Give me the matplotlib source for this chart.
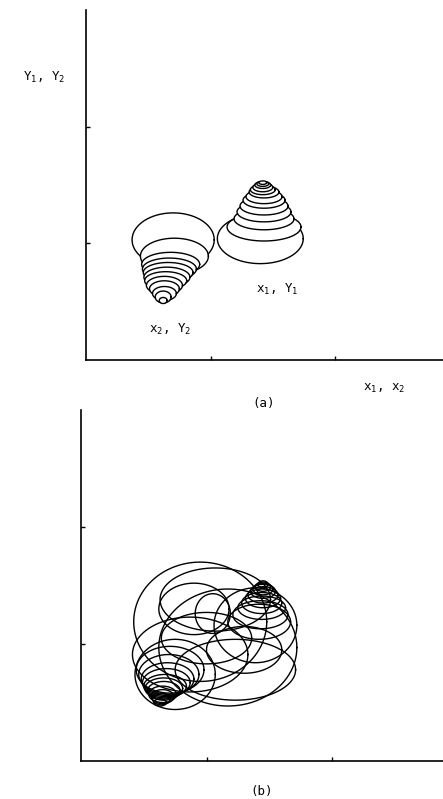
import numpy as np
import matplotlib.pyplot as plt

plt.rcParams['font.family'] = ['DejaVu Sans Mono']
plt.rcParams['mathtext.fontset'] = 'custom'
plt.rcParams['mathtext.rm'] = 'DejaVu Sans Mono'
plt.rcParams['mathtext.it'] = 'DejaVu Sans Mono'
plt.rcParams['mathtext.default'] = 'rm'

W, H = 443, 799

# ---- panel (a): two separate peaks, contour rings listed outer -> inner ----
# peak x1,y1 (rings climb upward)
a1_cx = [1.40, 1.43, 1.43, 1.43, 1.43, 1.43, 1.43, 1.43, 1.42, 1.42, 1.42, 1.42, 1.42]
a1_cy = [1.04, 1.14, 1.21, 1.27, 1.32, 1.37, 1.40, 1.44, 1.46, 1.48, 1.50, 1.51, 1.52]
a1_w  = [0.345, 0.297, 0.241, 0.217, 0.193, 0.169, 0.145, 0.12, 0.10, 0.08, 0.064, 0.048, 0.032]
a1_h  = [0.214, 0.12, 0.094, 0.086, 0.077, 0.069, 0.06, 0.051, 0.043, 0.038, 0.03, 0.022, 0.015]

# peak x2,y2 (rings drop downward)
a2_cx = [0.70, 0.71, 0.68, 0.67, 0.66, 0.65, 0.64, 0.63, 0.63, 0.63, 0.62, 0.62]
a2_cy = [1.03, 0.89, 0.82, 0.78, 0.75, 0.71, 0.68, 0.64, 0.61, 0.57, 0.54, 0.51]
a2_w  = [0.33, 0.273, 0.233, 0.217, 0.20, 0.185, 0.169, 0.145, 0.12, 0.096, 0.064, 0.032]
a2_h  = [0.231, 0.154, 0.103, 0.094, 0.086, 0.086, 0.077, 0.077, 0.069, 0.06, 0.051, 0.026]

# ---- panel (b): merged surface ----
b1_cx = [1.42, 1.43, 1.44, 1.44, 1.45, 1.45, 1.45, 1.45, 1.45, 1.45]
b1_cy = [1.19, 1.25, 1.31, 1.35, 1.39, 1.42, 1.45, 1.47, 1.49, 1.51]
b1_w  = [0.25, 0.22, 0.19, 0.16, 0.14, 0.12, 0.10, 0.08, 0.06, 0.04]
b1_h  = [0.15, 0.12, 0.10, 0.09, 0.08, 0.07, 0.06, 0.05, 0.04, 0.03]

b2_cx = [0.71, 0.70, 0.69, 0.68, 0.67, 0.66, 0.66, 0.65, 0.65, 0.64, 0.63]
b2_cy = [0.78, 0.74, 0.70, 0.67, 0.64, 0.62, 0.60, 0.57, 0.55, 0.53, 0.50]
b2_w  = [0.27, 0.24, 0.21, 0.19, 0.17, 0.15, 0.13, 0.11, 0.09, 0.07, 0.05]
b2_h  = [0.20, 0.17, 0.14, 0.12, 0.10, 0.09, 0.08, 0.07, 0.06, 0.05, 0.03]

# wide low-level contours that wrap both peaks
bw_cx = [0.95, 1.17, 1.05, 0.87, 1.39, 0.75, 1.23, 1.07, 1.00, 1.30, 0.90]
bw_cy = [1.19, 0.97, 1.26, 0.91, 1.16, 0.74, 0.78, 1.38, 1.05, 0.95, 1.30]
bw_w  = [0.53, 0.55, 0.14, 0.46, 0.33, 0.32, 0.48, 0.44, 0.36, 0.30, 0.28]
bw_h  = [0.51, 0.50, 0.17, 0.32, 0.32, 0.30, 0.26, 0.27, 0.22, 0.20, 0.22]


def rings(ax, cx, cy, w, h, hide=True):
    t = np.linspace(0, 2 * np.pi, 721)
    for i in range(len(cx)):
        x = cx[i] + w[i] * np.cos(t)
        y = cy[i] + h[i] * np.sin(t)
        vis = np.ones_like(t, dtype=bool)
        if hide:
            # parts lying behind the higher rings are not drawn
            for j in range(i + 1, len(cx)):
                d = ((x - cx[j]) / w[j]) ** 2 + ((y - cy[j]) / h[j]) ** 2
                vis &= d > 1.0
        ax.plot(np.where(vis, x, np.nan), np.where(vis, y, np.nan),
                color='k', lw=1.0)


def frame(ax, xmax):
    ax.set_xlim(0, xmax)
    ax.set_ylim(0, 3)
    ax.spines[['top', 'right']].set_visible(False)
    for s in ('left', 'bottom'):
        ax.spines[s].set_linewidth(1.2)
    ax.set_xticks([1, 2])
    ax.set_yticks([1, 2])
    ax.tick_params(direction='in', length=3, width=1,
                   labelbottom=False, labelleft=False)


fig = plt.figure(figsize=(W / 100, H / 100), dpi=100)

axa = fig.add_axes([86 / W, 1 - 360 / H, (W - 86) / W, 350 / H])
frame(axa, (W - 86) / 124.5)
rings(axa, a1_cx, a1_cy, a1_w, a1_h)
rings(axa, a2_cx, a2_cy, a2_w, a2_h)

axb = fig.add_axes([81 / W, 1 - 761 / H, (W - 81) / W, 351 / H])
frame(axb, (W - 81) / 125.5)
rings(axb, bw_cx, bw_cy, bw_w, bw_h, hide=False)
rings(axb, b1_cx, b1_cy, b1_w, b1_h, hide=False)
rings(axb, b2_cx, b2_cy, b2_w, b2_h, hide=False)

fs = 9
def label(px, py, s):
    fig.text(px / W, 1 - py / H, s, ha='center', va='center', fontsize=fs)

label(44, 77, r'Y$_1$, Y$_2$')
label(277, 289, r'x$_1$, Y$_1$')
label(170, 329, r'x$_2$, Y$_2$')
label(384, 388, r'x$_1$, x$_2$')
label(264, 403, '(a)')
label(262, 792, '(b)')

fig.savefig('out.png', dpi=100)
